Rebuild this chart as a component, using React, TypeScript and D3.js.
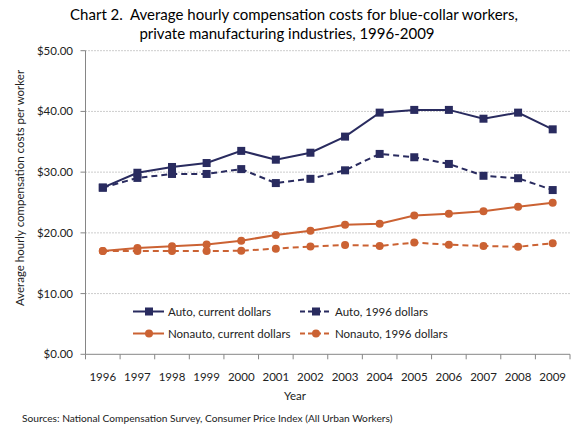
import React from "react";
import * as d3 from "d3";

const years = ["1996","1997","1998","1999","2000","2001","2002","2003","2004","2005","2006","2007","2008","2009"];
const autoCurrent = [27.45, 29.9, 30.85, 31.5, 33.5, 32.05, 33.2, 35.85, 39.8, 40.25, 40.25, 38.8, 39.8, 37.05];
const auto1996 = [27.45, 29.05, 29.7, 29.7, 30.5, 28.2, 28.9, 30.3, 33.0, 32.45, 31.35, 29.4, 29.0, 27.05];
const nonautoCurrent = [17.0, 17.5, 17.8, 18.1, 18.7, 19.65, 20.35, 21.35, 21.5, 22.85, 23.15, 23.55, 24.3, 24.95];
const nonauto1996 = [17.0, 17.0, 17.0, 17.0, 17.05, 17.4, 17.75, 18.0, 17.85, 18.4, 18.05, 17.85, 17.7, 18.3];
const yTicks = [0, 10, 20, 30, 40, 50];

const NAVY = "#292B5F";
const ORANGE = "#CB6233";
const FONT = "Lato, 'Open Sans', sans-serif";

const series = [
  { name: "Auto, current dollars", values: autoCurrent, color: NAVY, dashed: false, marker: "square" },
  { name: "Auto, 1996 dollars", values: auto1996, color: NAVY, dashed: true, marker: "square" },
  { name: "Nonauto, current dollars", values: nonautoCurrent, color: ORANGE, dashed: false, marker: "circle" },
  { name: "Nonauto, 1996 dollars", values: nonauto1996, color: ORANGE, dashed: true, marker: "circle" },
];

function Marker({ type, x, y, color }: { type: string; x: number; y: number; color: string }) {
  if (type === "square") return <rect x={x - 4} y={y - 4} width={8} height={8} fill={color} />;
  return <circle cx={x} cy={y} r={4} fill={color} />;
}

export default function App() {
  const W = 583, H = 434;
  const left = 85.5, right = 570, top = 50.7, bottom = 354.3;
  const x = d3.scaleBand<string>().domain(years).range([left, right]);
  const y = d3.scaleLinear().domain([0, 50]).range([bottom, top]);
  const cx = (yr: string) => (x(yr) as number) + x.bandwidth() / 2;
  const line = d3.line<number>().x((_, i) => cx(years[i])).y((v) => y(v));

  const legendPos = [
    { lx: 133, ly: 311.5 },
    { lx: 300, ly: 311.5 },
    { lx: 133, ly: 333.5 },
    { lx: 300, ly: 333.5 },
  ];

  return (
    <div style={{ position: "fixed", left: 0, top: 0 }}>
      <svg width={W} height={H} style={{ display: "block", background: "#fff" }} fontFamily={FONT}>
        <text x={294} y={20} textAnchor="middle" fontSize={15} fill="#000" style={{ whiteSpace: "pre" }}>
          {"Chart 2.  Average hourly compensation costs for blue-collar workers,"}
        </text>
        <text x={287} y={39} textAnchor="middle" fontSize={15} fill="#000">
          private manufacturing industries, 1996-2009
        </text>

        {yTicks.map((t) => (
          <g key={t}>
            {t > 0 && (
              <line x1={left} x2={right} y1={y(t)} y2={y(t)} stroke="#9a9a9a" strokeWidth={1} strokeDasharray="1,2" />
            )}
            <line x1={left - 5} x2={left} y1={y(t)} y2={y(t)} stroke="#868686" />
            <text x={73} y={y(t) + 4} textAnchor="end" fontSize={11.5} fill="#222">
              {d3.format("$.2f")(t)}
            </text>
          </g>
        ))}
        <line x1={left} x2={left} y1={top} y2={bottom} stroke="#868686" />
        <line x1={left} x2={right} y1={bottom} y2={bottom} stroke="#868686" />
        {years.map((yr) => (
          <line key={"t" + yr} x1={x(yr) as number} x2={x(yr) as number} y1={bottom} y2={bottom + 5} stroke="#868686" />
        ))}
        <line x1={right} x2={right} y1={bottom} y2={bottom + 5} stroke="#868686" />
        {years.map((yr) => (
          <text key={yr} x={cx(yr)} y={381} textAnchor="middle" fontSize={11.5} fill="#222">
            {yr}
          </text>
        ))}
        <text x={295} y={400} textAnchor="middle" fontSize={11.5} fill="#222">Year</text>
        <text transform="translate(24,188) rotate(-90)" textAnchor="middle" fontSize={11.5} fill="#222">
          Average hourly compensation costs per worker
        </text>

        {series.map((s) => (
          <g key={s.name}>
            <path d={line(s.values) as string} fill="none" stroke={s.color} strokeWidth={2}
              strokeDasharray={s.dashed ? "6,4" : undefined} />
            {s.values.map((v, i) => (
              <Marker key={i} type={s.marker} x={cx(years[i])} y={y(v)} color={s.color} />
            ))}
          </g>
        ))}

        {series.map((s, i) => {
          const p = legendPos[i];
          return (
            <g key={"lg" + s.name}>
              <line x1={p.lx} x2={p.lx + 31} y1={p.ly} y2={p.ly} stroke={s.color} strokeWidth={2}
                strokeDasharray={s.dashed ? "5,3" : undefined} />
              <Marker type={s.marker} x={p.lx + 16} y={p.ly} color={s.color} />
              <text x={p.lx + 35} y={p.ly + 4} fontSize={11.5} fill="#222">{s.name}</text>
            </g>
          );
        })}

        <text x={22} y={422} fontSize={10.2} fill="#222">
          Sources: National Compensation Survey, Consumer Price Index (All Urban Workers)
        </text>
      </svg>
    </div>
  );
}
